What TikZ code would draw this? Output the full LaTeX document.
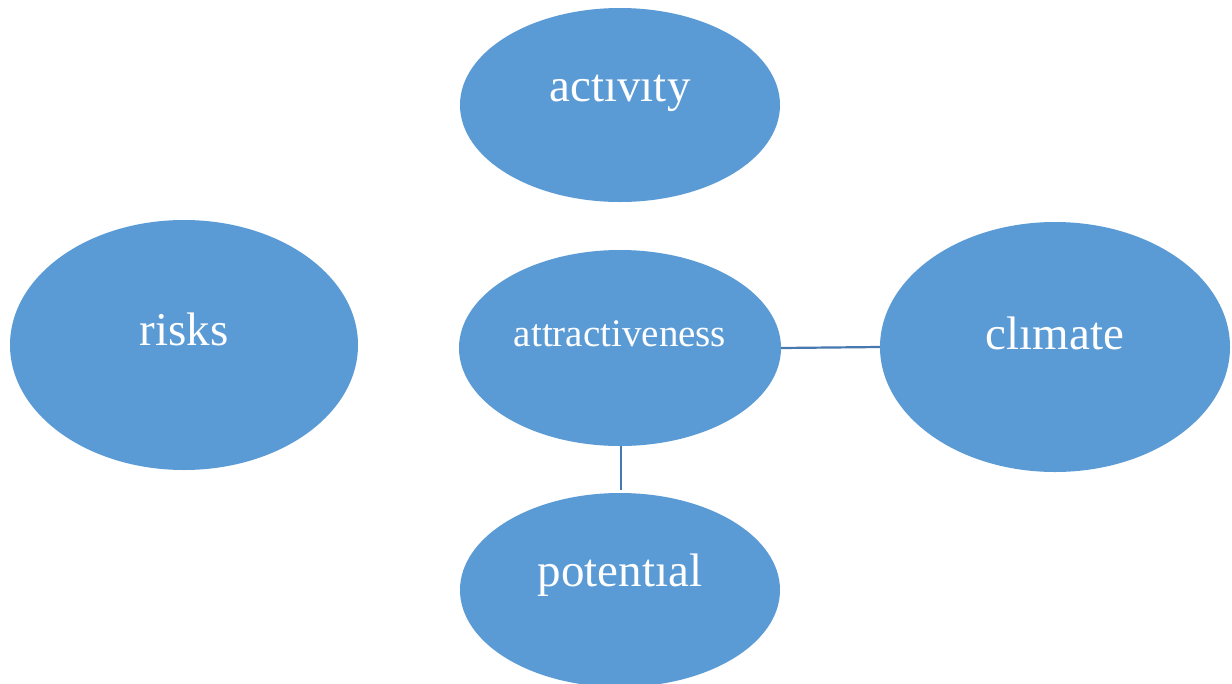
\documentclass[tikz,border=0pt]{standalone}
\usepackage{fontspec}
\setmainfont{Liberation Serif}
\usetikzlibrary{shapes.geometric}
\definecolor{bubble}{HTML}{5B9BD5}
\definecolor{linkc}{HTML}{4778B0}
\begin{document}
\begin{tikzpicture}[x=1pt,y=1pt,
  bub/.style={ellipse,fill=bubble,draw=none,inner sep=0pt},
  lbl/.style={text=white,inner sep=0pt,font=\fontsize{47}{50}\selectfont},
  lblsmall/.style={text=white,inner sep=0pt,font=\fontsize{39}{44}\selectfont},
  conn/.style={draw=linkc,line width=2.2pt}]
\useasboundingbox[fill=white] (0,0) rectangle (1232,-683);
\begin{scope}
\clip (0,0) rectangle (1232,-683);
\node[bub,minimum width=320pt,minimum height=194pt] (act) at (620,-105) {};
\node[bub,minimum width=348pt,minimum height=250pt] (risk) at (184,-345) {};
\node[bub,minimum width=322pt,minimum height=196pt] (attr) at (620,-348) {};
\node[bub,minimum width=350pt,minimum height=250pt] (clim) at (1055,-347) {};
\node[bub,minimum width=320pt,minimum height=194pt] (pot) at (620,-590) {};
\end{scope}
\draw[conn] (attr.east) -- (clim.west);
\draw[conn] ([xshift=1pt]attr.south) -- ([xshift=1pt,yshift=3pt]pot.north);
\node[lbl] (actl) at ([yshift=12pt]act.center) {actıvıty};
\node[lbl] (riskl) at ([yshift=16pt]risk.center) {risks};
\node[lblsmall] (attrl) at ([yshift=14pt]attr.center) {attractiveness};
\node[lbl] (climl) at ([yshift=14pt]clim.center) {clımate};
\node[lbl] (potl) at ([yshift=15pt]pot.center) {potentıal};
\end{tikzpicture}
\end{document}
